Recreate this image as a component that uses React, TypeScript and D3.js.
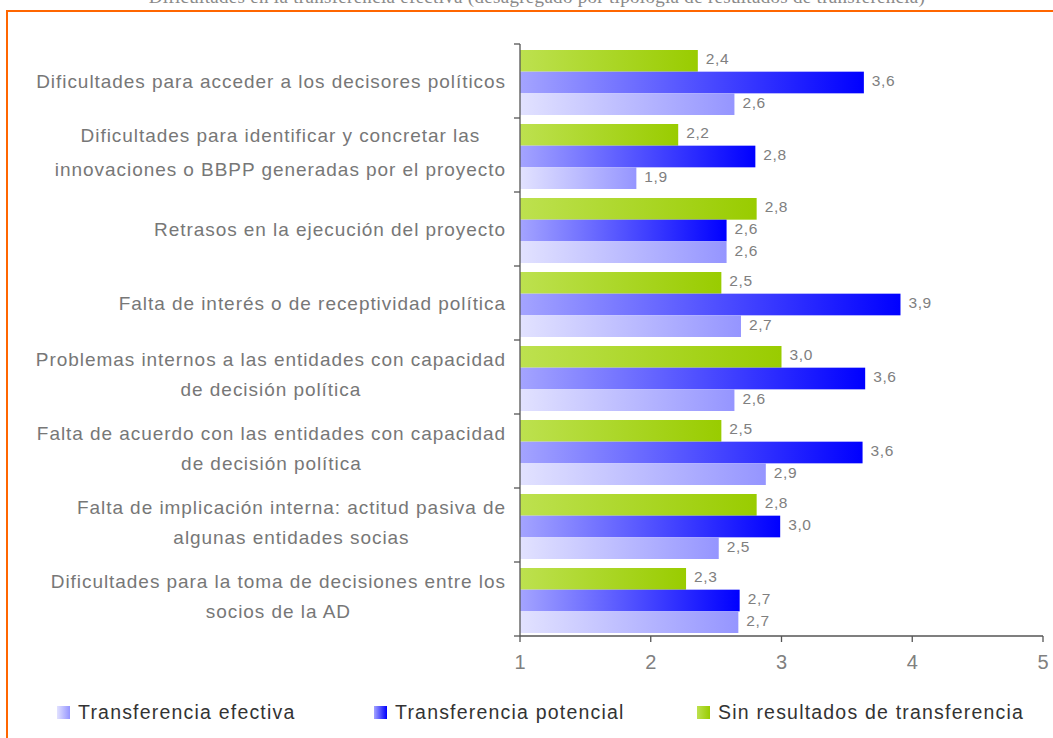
import React, { useEffect, useRef } from "react";
import * as d3 from "d3";

const categories: string[][] = [
  ["Dificultades para acceder a los decisores políticos"],
  ["Dificultades para identificar y concretar las", "innovaciones o BBPP generadas por el proyecto"],
  ["Retrasos en la ejecución del proyecto"],
  ["Falta de interés o de receptividad política"],
  ["Problemas internos a las entidades con capacidad", "de decisión política"],
  ["Falta de acuerdo con las entidades con capacidad", "de decisión política"],
  ["Falta de implicación interna: actitud pasiva de", "algunas entidades socias"],
  ["Dificultades para la toma de decisiones entre los", "socios de la AD"],
];

const efectiva = [2.64, 1.89, 2.58, 2.69, 2.64, 2.88, 2.52, 2.67];
const potencial = [3.63, 2.8, 2.58, 3.91, 3.64, 3.62, 2.99, 2.68];
const sinResultados = [2.36, 2.21, 2.81, 2.54, 3.0, 2.54, 2.81, 2.27];

const seriesNames = ["Transferencia efectiva", "Transferencia potencial", "Sin resultados de transferencia"];
const xTicks = [1, 2, 3, 4, 5];
const title = "Dificultades en la transferencia efectiva (desagregado por tipología de resultados de transferencia)";

export default function App() {
  const ref = useRef<SVGSVGElement | null>(null);

  useEffect(() => {
    document.body.style.margin = "0";
    document.body.style.overflow = "hidden";
    const svg = d3.select(ref.current!);
    svg.selectAll("*").remove();

    const W = 1053, H = 738;
    const left = 520, right = 1043, top = 44, bottom = 636;
    const font = "'Liberation Sans', Arial, sans-serif";

    const defs = svg.append("defs");
    const grads = [
      { id: "gEfe", c0: "#e2e2ff", c1: "#9595ff" },
      { id: "gPot", c0: "#a4a4ff", c1: "#0000ff" },
      { id: "gSin", c0: "#bde14f", c1: "#99cc00" },
    ];
    grads.forEach((g) => {
      const lg = defs.append("linearGradient").attr("id", g.id).attr("x1", "0").attr("x2", "1").attr("y1", "0").attr("y2", "0");
      lg.append("stop").attr("offset", "0").attr("stop-color", g.c0);
      lg.append("stop").attr("offset", "1").attr("stop-color", g.c1);
    });

    svg.append("rect").attr("width", W).attr("height", H).attr("fill", "#fff");

    // title (cut off at top, as in the reference)
    svg.append("text").attr("x", 537).attr("y", 3).attr("text-anchor", "middle")
      .attr("font-family", "'Liberation Serif', 'Times New Roman', serif").attr("font-size", 19)
      .attr("letter-spacing", 0.3)
      .attr("fill", "#8a8a8a").text(title);

    // orange frame
    svg.append("rect").attr("x", 7).attr("y", 11).attr("width", W + 20).attr("height", H + 20)
      .attr("fill", "none").attr("stroke", "#ff6600").attr("stroke-width", 2);

    const x = d3.scaleLinear().domain([1, 5]).range([left, right]);
    const y = d3.scaleBand<number>().domain(d3.range(categories.length)).range([top, bottom]).paddingInner(0).paddingOuter(0);
    const step = y.step();
    const sub = d3.scaleBand<string>().domain(["sin", "pot", "efe"]).range([6, step - 3]);

    const series = [
      { key: "sin", vals: sinResultados, fill: "url(#gSin)" },
      { key: "pot", vals: potencial, fill: "url(#gPot)" },
      { key: "efe", vals: efectiva, fill: "url(#gEfe)" },
    ];

    const gBars = svg.append("g");
    series.forEach((s) => {
      gBars.selectAll(null).data(s.vals).enter().append("rect")
        .attr("x", x(1))
        .attr("y", (_d, i) => (y(i) as number) + (sub(s.key) as number))
        .attr("width", (d) => x(d) - x(1))
        .attr("height", sub.bandwidth())
        .attr("fill", s.fill);
      gBars.selectAll(null).data(s.vals).enter().append("text")
        .attr("x", (d) => x(d) + 8)
        .attr("y", (_d, i) => (y(i) as number) + (sub(s.key) as number) + sub.bandwidth() / 2 - 2)
        .attr("dominant-baseline", "central")
        .attr("font-family", font).attr("font-size", 15.5).attr("letter-spacing", 0.6).attr("fill", "#808080")
        .text((d) => d.toFixed(1).replace(".", ","));
    });

    // axes
    const axisColor = "#555";
    svg.append("line").attr("x1", left).attr("x2", left).attr("y1", top).attr("y2", bottom).attr("stroke", axisColor).attr("stroke-width", 1.3);
    svg.append("line").attr("x1", left).attr("x2", right).attr("y1", bottom).attr("y2", bottom).attr("stroke", axisColor).attr("stroke-width", 1.3);
    const yTickPos = d3.range(categories.length + 1).map((i) => top + i * step);
    svg.selectAll(null).data(yTickPos).enter().append("line")
      .attr("x1", left - 6).attr("x2", left).attr("y1", (d) => d).attr("y2", (d) => d)
      .attr("stroke", axisColor).attr("stroke-width", 1.3);
    svg.selectAll(null).data(xTicks).enter().append("line")
      .attr("x1", (d) => x(d)).attr("x2", (d) => x(d)).attr("y1", bottom).attr("y2", bottom + 6)
      .attr("stroke", axisColor).attr("stroke-width", 1.3);
    svg.selectAll(null).data(xTicks).enter().append("text")
      .attr("x", (d) => x(d)).attr("y", 662).attr("text-anchor", "middle").attr("dominant-baseline", "central")
      .attr("font-family", font).attr("font-size", 20).attr("fill", "#808080")
      .text((d) => String(d));

    // category labels (centered lines, block right aligned)
    const labelRight = 506;
    const lineH = 30;
    categories.forEach((lines, i) => {
      const g = svg.append("g");
      const texts = lines.map((ln) =>
        g.append("text").attr("font-family", font).attr("font-size", 19).attr("letter-spacing", 0.95).attr("fill", "#777")
          .attr("text-anchor", "middle").attr("dominant-baseline", "central").text(ln)
      );
      const widths = texts.map((t) => (t.node() as SVGTextElement).getComputedTextLength());
      const maxW = Math.max(...widths);
      const cx = labelRight - maxW / 2;
      const cy = (y(i) as number) + step / 2 - (lines.length > 1 ? 3 : 0);
      const lh = i === 1 ? 34 : lineH;
      texts.forEach((t, j) => {
        t.attr("x", cx).attr("y", cy + (j - (lines.length - 1) / 2) * lh);
      });
    });

    // legend
    const legendX = [57, 374, 697];
    const legendFills = ["url(#gEfe)", "url(#gPot)", "url(#gSin)"];
    seriesNames.forEach((name, i) => {
      svg.append("rect").attr("x", legendX[i]).attr("y", 706).attr("width", 13).attr("height", 13).attr("fill", legendFills[i]);
      svg.append("text").attr("x", legendX[i] + 21).attr("y", 712).attr("dominant-baseline", "central")
        .attr("font-family", font).attr("font-size", 19.5).attr("letter-spacing", 1.2).attr("fill", "#333").text(name);
    });
  }, []);

  return (
    <svg ref={ref} width={1053} height={738} style={{ display: "block", position: "absolute", left: 0, top: 0 }} />
  );
}
